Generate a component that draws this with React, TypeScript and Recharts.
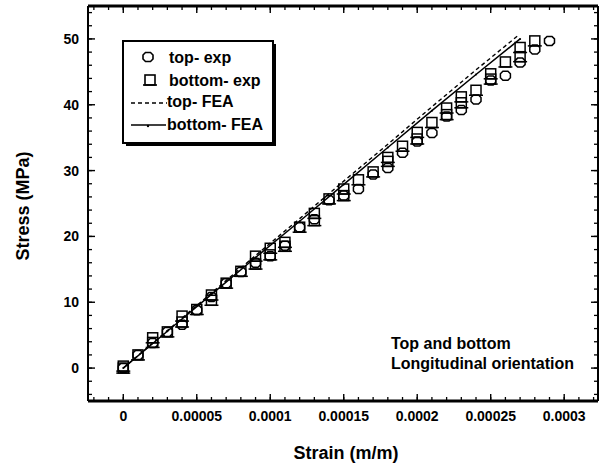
import React from 'react';
import { ScatterChart, Scatter, XAxis, YAxis, Legend, Customized } from 'recharts';

const FONT = '"Liberation Sans", Arial, Helvetica, sans-serif';

// ---- data ----
const topExpStrain = [0, 0.00001, 0.00002, 0.00003, 0.00004, 0.00005, 0.00006, 0.00007, 0.00008, 0.00009,
  0.0001, 0.00011, 0.00012, 0.00013, 0.00014, 0.00015, 0.00016, 0.00017, 0.00018, 0.00019,
  0.0002, 0.00021, 0.00022, 0.00023, 0.00024, 0.00025, 0.00026, 0.00027, 0.00028, 0.00029];
const topExpStress = [0, 2.0, 3.8, 5.5, 6.6, 8.8, 10.8, 12.9, 14.6, 16.0,
  17.0, 18.6, 21.4, 22.6, 25.5, 26.2, 27.2, 29.4, 30.4, 32.7,
  34.4, 35.7, 38.2, 39.2, 40.8, 43.7, 44.4, 46.4, 48.4, 49.7];

const bottomExpStrain = [0, 0, 0.00001, 0.00002, 0.00002, 0.00003, 0.00004, 0.00004, 0.00005, 0.00006,
  0.00006, 0.00007, 0.00008, 0.00009, 0.00009, 0.0001, 0.0001, 0.00011, 0.00011, 0.00012,
  0.00013, 0.00013, 0.00014, 0.00015, 0.00015, 0.00016, 0.00017, 0.00018, 0.00018, 0.00019,
  0.0002, 0.0002, 0.00021, 0.00022, 0.00022, 0.00023, 0.00023, 0.00024, 0.00025, 0.00025,
  0.00026, 0.00027, 0.00027, 0.00028];
const bottomExpStress = [0.3, 0, 2.0, 4.6, 3.9, 5.5, 7.9, 7.0, 8.9, 11.1,
  10.3, 12.9, 14.7, 17.0, 15.8, 18.2, 17.2, 19.1, 18.5, 21.4,
  23.5, 22.4, 25.7, 27.2, 26.2, 28.6, 29.8, 32.0, 31.4, 33.7,
  35.8, 34.8, 37.3, 39.5, 38.5, 41.2, 40.3, 42.2, 44.7, 43.9,
  46.5, 48.7, 47.3, 49.7];

const topFeaStrain = [0, 0.00003, 0.00006, 0.00009, 0.00012, 0.00015, 0.00018, 0.00021, 0.00024, 0.000268];
const topFeaStress = [0, 5.7, 11.4, 17.1, 22.7, 28.4, 34.0, 39.7, 45.3, 50.4];
const bottomFeaStrain = [0, 0.00003, 0.00006, 0.00009, 0.00012, 0.00015, 0.00018, 0.00021, 0.00024, 0.00027];
const bottomFeaStress = [0, 5.6, 11.2, 16.8, 22.3, 27.9, 33.5, 39.1, 44.6, 50.0];

const xMajorTicks = [0, 0.00005, 0.0001, 0.00015, 0.0002, 0.00025, 0.0003];
const xTickLabels = ['0', '0.00005', '0.0001', '0.00015', '0.0002', '0.00025', '0.0003'];
const yMajorTicks = [0, 10, 20, 30, 40, 50];
const yTickLabels = ['0', '10', '20', '30', '40', '50'];

const xDomain: [number, number] = [-0.000024, 0.000323];
const yDomain: [number, number] = [-5, 55];

const xTicks: number[] = [];
for (let k = -2; k <= 32; k++) xTicks.push(Number((k * 1e-5).toFixed(5)));
const yTicks: number[] = [];
for (let v = -4; v <= 54; v += 2) yTicks.push(v);

const zip = (xs: number[], ys: number[]) => xs.map((x, i) => ({ x, y: ys[i] }));
const topExp = zip(topExpStrain, topExpStress);
const bottomExp = zip(bottomExpStrain, bottomExpStress);
const topFea = zip(topFeaStrain, topFeaStress);
const bottomFea = zip(bottomFeaStrain, bottomFeaStress);

// ---- marker shapes ----
const octPts = (cx: number, cy: number) =>
  [[-2.5, -4.5], [2.5, -4.5], [5, -2], [5, 2], [2.5, 4.5], [-2.5, 4.5], [-5, 2], [-5, -2]]
    .map(([dx, dy]) => `${cx + dx},${cy + dy}`).join(' ');

const Hex = (props: any) => {
  const { cx, cy } = props;
  if (cx == null || cy == null) return <g />;
  return <polygon points={octPts(cx, cy)} fill="none" stroke="#000" strokeWidth={1.5} />;
};
const Sq = (props: any) => {
  const { cx, cy } = props;
  if (cx == null || cy == null) return <g />;
  return (
    <g>
      <rect x={cx - 5} y={cy - 5} width={10} height={10} fill="none" stroke="#000" strokeWidth={1.5} />
      <line x1={cx - 7} x2={cx + 7} y1={cy + 5} y2={cy + 5} stroke="#000" strokeWidth={1.5} />
    </g>
  );
};
const Tiny = (props: any) => {
  const { cx, cy } = props;
  if (cx == null || cy == null) return <g />;
  return <circle cx={cx} cy={cy} r={1} fill="#000" />;
};
const Empty = () => <g />;

// ---- ticks: native inward tick line for all, longer mark + label for majors ----
const tickText = { fontFamily: FONT, fontWeight: 'bold' as const, fontSize: 14, fill: '#000' };
const MAJ = 7;

const BottomTick = (props: any) => {
  const { x, y, payload } = props;
  const idx = xMajorTicks.indexOf(payload.value);
  if (idx < 0) return <g />;
  return (
    <g>
      <path d={`M${x},${y}L${x},${y - MAJ}`} stroke="#000" strokeWidth={1.4} fill="none" />
      <text x={x} y={y + 20} textAnchor="middle" {...tickText}>{xTickLabels[idx]}</text>
    </g>
  );
};
const TopTick = (props: any) => {
  const { x, y, payload } = props;
  if (xMajorTicks.indexOf(payload.value) < 0) return <g />;
  return <path d={`M${x},${y}L${x},${y + MAJ}`} stroke="#000" strokeWidth={1.4} fill="none" />;
};
const LeftTick = (props: any) => {
  const { x, y, payload } = props;
  const idx = yMajorTicks.indexOf(payload.value);
  if (idx < 0) return <g />;
  return (
    <g>
      <path d={`M${x},${y}L${x + MAJ},${y}`} stroke="#000" strokeWidth={1.4} fill="none" />
      <text x={x - 9} y={y + 5} textAnchor="end" {...tickText}>{yTickLabels[idx]}</text>
    </g>
  );
};
const RightTick = (props: any) => {
  const { x, y, payload } = props;
  if (yMajorTicks.indexOf(payload.value) < 0) return <g />;
  return <path d={`M${x},${y}L${x - MAJ},${y}`} stroke="#000" strokeWidth={1.4} fill="none" />;
};

// ---- legend ----
const legendText = { fontFamily: FONT, fontWeight: 'bold' as const, fontSize: 16, fill: '#000' };
const LegendBox = () => (
  <svg width={156} height={108} style={{ display: 'block' }}>
    <rect x={4} y={4} width={150} height={102} fill="#000" />
    <rect x={1} y={1} width={150} height={102} fill="#fff" stroke="#000" strokeWidth={2} />
    <polygon points={octPts(26, 17)} fill="none" stroke="#000" strokeWidth={1.6} />
    <text x={47} y={23} {...legendText}>top- exp</text>
    <rect x={23} y={35} width={10} height={10} fill="none" stroke="#000" strokeWidth={1.6} />
    <line x1={21} x2={35} y1={45} y2={45} stroke="#000" strokeWidth={1.6} />
    <text x={47} y={46} {...legendText}>bottom- exp</text>
    <line x1={9} x2={45} y1={63} y2={63} stroke="#000" strokeWidth={1.5} strokeDasharray="4 3" />
    <text x={45} y={67} {...legendText}>top- FEA</text>
    <line x1={9} x2={44} y1={85} y2={85} stroke="#000" strokeWidth={1.6} />
    <circle cx={26} cy={86} r={1.2} fill="#000" />
    <text x={45} y={90} {...legendText}>bottom- FEA</text>
  </svg>
);

// ---- text annotations ----
const Texts = () => (
  <g>
    <text x={23} y={206} transform="rotate(-90, 23, 206)" textAnchor="middle" dominantBaseline="central"
      fontFamily={FONT} fontWeight="bold" fontSize={18} fill="#000">Stress (MPa)</text>
    <text x={346} y={459} textAnchor="middle" fontFamily={FONT} fontWeight="bold" fontSize={18} fill="#000">Strain (m/m)</text>
    <text x={391} y={349} fontFamily={FONT} fontWeight="bold" fontSize={16} fill="#000">Top and bottom</text>
    <text x={391} y={369} fontFamily={FONT} fontWeight="bold" fontSize={16} fill="#000">Longitudinal orientation</text>
  </g>
);

const tl = { stroke: '#000', strokeWidth: 1.3 };

export default function App() {
  return (
    <div style={{ position: 'absolute', left: 0, top: 0, width: 599, height: 469, overflow: 'hidden', background: '#fff' }}>
      <ScatterChart width={599} height={469} margin={{ top: 5, right: 0, bottom: 0, left: 0 }}>
        <XAxis xAxisId="b" type="number" dataKey="x" domain={xDomain} ticks={xTicks} interval={0}
          tick={(p: any) => <BottomTick {...p} />} tickLine={tl} tickSize={-4} tickMargin={4}
          axisLine={{ stroke: '#000', strokeWidth: 3 }} height={68} allowDataOverflow />
        <XAxis xAxisId="t" orientation="top" type="number" dataKey="x" domain={xDomain} ticks={xTicks} interval={0}
          tick={(p: any) => <TopTick {...p} />} tickLine={tl} tickSize={-4} tickMargin={4}
          axisLine={{ stroke: '#000', strokeWidth: 3 }} height={1} allowDataOverflow />
        <YAxis yAxisId="l" type="number" dataKey="y" domain={yDomain} ticks={yTicks} interval={0}
          tick={(p: any) => <LeftTick {...p} />} tickLine={tl} tickSize={-4} tickMargin={4}
          axisLine={{ stroke: '#000', strokeWidth: 2 }} width={88} allowDataOverflow />
        <YAxis yAxisId="r" orientation="right" type="number" dataKey="y" domain={yDomain} ticks={yTicks} interval={0}
          tick={(p: any) => <RightTick {...p} />} tickLine={tl} tickSize={-4} tickMargin={4}
          axisLine={{ stroke: '#000', strokeWidth: 2 }} width={1} allowDataOverflow />

        {/* invisible companion so the top/right frame axes have a series */}
        <Scatter xAxisId="t" yAxisId="r" data={topExp} shape={(p: any) => <Empty {...p} />} isAnimationActive={false} legendType="none" />

        <Scatter name="top- FEA" xAxisId="b" yAxisId="l" data={topFea} line={{ stroke: '#000', strokeWidth: 1.4, strokeDasharray: '4 3' }}
          lineType="joint" shape={(p: any) => <Empty {...p} />} isAnimationActive={false} />
        <Scatter name="bottom- FEA" xAxisId="b" yAxisId="l" data={bottomFea} line={{ stroke: '#000', strokeWidth: 1.5 }}
          lineType="joint" shape={(p: any) => <Tiny {...p} />} isAnimationActive={false} />
        <Scatter name="top- exp" xAxisId="b" yAxisId="l" data={topExp} shape={(p: any) => <Hex {...p} />} isAnimationActive={false} />
        <Scatter name="bottom- exp" xAxisId="b" yAxisId="l" data={bottomExp} shape={(p: any) => <Sq {...p} />} isAnimationActive={false} />
        <Legend layout="vertical" align="center" verticalAlign="middle" content={() => <LegendBox />}
          wrapperStyle={{ position: 'absolute', left: 122, top: 40, width: 156, height: 108 }} />
        <Customized component={<Texts />} />
      </ScatterChart>
    </div>
  );
}
